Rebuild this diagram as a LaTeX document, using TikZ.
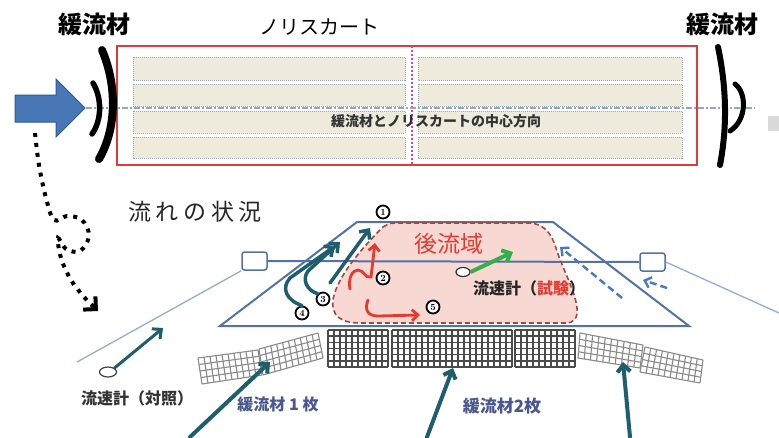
\documentclass[tikz,border=0pt]{standalone}
\usepackage{fontspec}
\newfontfamily\jp{Noto Sans CJK JP}
\usetikzlibrary{arrows.meta,calc,shapes.geometric}

\definecolor{stripfill}{HTML}{EEEBDC}
\definecolor{stripline}{HTML}{9EA6B6}
\definecolor{frame}{HTML}{E53935}
\definecolor{midline}{HTML}{E0409A}
\definecolor{axisblue}{HTML}{8EA6D4}
\definecolor{blockfill}{HTML}{4877B6}
\definecolor{blockedge}{HTML}{30589A}
\definecolor{chanblue}{HTML}{5272AC}
\definecolor{sideblue}{HTML}{93AED6}
\definecolor{tealc}{HTML}{1F5E6C}
\definecolor{wakefill}{HTML}{F7D8D3}
\definecolor{wakeedge}{HTML}{A24A42}
\definecolor{redtxt}{HTML}{E63A30}
\definecolor{greenc}{HTML}{33B04A}
\definecolor{backflow}{HTML}{4A78C8}
\definecolor{labelblue}{HTML}{4A5890}
\definecolor{meshdark}{HTML}{4A4A4A}
\definecolor{meshlight}{HTML}{8A8A8A}

% quadrilateral net panel: corners TL, TR, BR, BL, columns, rows, line style
\newcommand\drawmeshquad[7]{%
  \fill[white] #1 -- #2 -- #3 -- #4 -- cycle;
  \foreach \k in {0,...,#5}{\draw[#7] ($#1!\k/#5!#2$) -- ($#4!\k/#5!#3$);}
  \foreach \k in {0,...,#6}{\draw[#7] ($#1!\k/#6!#4$) -- ($#2!\k/#6!#3$);}
}

\tikzset{
  jplabel/.style={inner sep=0pt},
  strip/.style={fill=stripfill, draw=stripline, densely dotted, line width=1pt},
  chan/.style={draw=chanblue, line width=2pt},
  sideline/.style={draw=sideblue, line width=1.3pt},
  gauge/.style={draw=chanblue, fill=white, rounded corners=2.5pt, line width=1.5pt,
                minimum width=25pt, minimum height=18pt, inner sep=0pt},
  meter/.style={ellipse, draw=black!80, fill=white, line width=1.2pt, inner sep=0pt},
  numc/.style={circle, draw=black, fill=white, line width=1.8pt, inner sep=0pt,
               minimum size=13pt, font=\bfseries\fontsize{9.5}{9.5}\selectfont},
  tealarrow/.style={draw=tealc, line width=3.5pt, line cap=round,
                    -{Straight Barb[length=7pt,width=13pt]}},
  redarrow/.style={draw=redtxt, line width=2.8pt, line cap=round,
                   -{Straight Barb[length=6pt,width=11pt]}},
  backarrow/.style={draw=backflow, line width=2.4pt, dash pattern=on 7pt off 4pt,
                    -{Straight Barb[length=6pt,width=11pt]}},
  dampstroke/.style={draw=black, line cap=round},
  meshd/.style={draw=meshdark, line width=1.6pt},
  meshl/.style={draw=meshlight, line width=1.1pt},
}

\begin{document}
\begin{tikzpicture}[x=1pt,y=-1pt]
\useasboundingbox (0,0) rectangle (779,437);
\fill[white] (0,0) rectangle (779,437);

% ---------- plan view: net skirt between the two dampers ----------
\node[jplabel, font=\jp\bfseries\fontsize{24}{26}\selectfont] (damperL) at (94,24) {緩流材};
\node[jplabel, font=\jp\fontsize{20}{24}\selectfont] (skirt) at (319,27) {ノリスカート};
\node[jplabel, font=\jp\bfseries\fontsize{24}{26}\selectfont] (damperR) at (722,24) {緩流材};

\foreach \ya/\yb in {57/80,84/106,111/133,137/158}{
  \draw[strip] (133,\ya) rectangle (405,\yb);
  \draw[strip] (418,\ya) rectangle (682,\yb);
}
\draw[frame, line width=2.2pt] (117,46) rectangle (697,165);
\draw[midline, line width=2pt, dash pattern=on 2pt off 2pt] (412,46) -- (412,165);

% centre axis of dampers and skirt
\coordinate (axisL) at (86,108);
\coordinate (axisR) at (755,108);
\draw[axisblue, line width=1.5pt, dash pattern=on 6pt off 2pt on 2pt off 2pt] (axisL) -- (axisR);
\node[jplabel, font=\jp\bfseries\fontsize{14}{16}\selectfont, text=black!80] (axistext) at (436,121)
  {緩流材とノリスカートの中心方向};

% incoming flow
\draw[fill=blockfill, draw=blockedge, line width=1pt]
  (15,95) -- (56,95) -- (56,79) -- (85,108) -- (56,137) -- (56,122) -- (15,122) -- cycle;

% dampers (brush strokes)
\draw[dampstroke, line width=8pt] (102,50) .. controls (117,85) and (117,128) .. (99,159);
\draw[dampstroke, line width=5.5pt] (93,83) .. controls (102,98) and (102,120) .. (92,134);
\draw[dampstroke, line width=6pt] (718,47) .. controls (727,90) and (727,128) .. (720,165);
\draw[dampstroke, line width=5pt] (735,84) .. controls (747,93) and (747,120) .. (730,131);
\fill[black!15] (768,116) rectangle (779,131);

% dotted pointer down to the flow sketch
\draw[line width=4pt, dash pattern=on 4pt off 6pt, -{Straight Barb[length=9pt,width=18pt]}]
  plot[smooth, tension=0.6] coordinates {(35,133) (39,165) (46,198) (54,220) (67,216)
  (82,220) (89,236) (80,251) (66,249) (58,238) (61,258) (71,280) (85,298) (98,311)};

\node[jplabel, font=\jp\fontsize{23}{26}\selectfont\addfontfeature{LetterSpace=20}, text=black!85]
  (flowtitle) at (195,212) {流れの状況};

% ---------- flow sketch ----------
% wake region
\fill[wakefill] (383,227) .. controls (390,223) .. (400,223) -- (530,223)
  .. controls (545,224) and (552,235) .. (556,248)
  .. controls (562,268) and (575,290) .. (577,308)
  .. controls (578,318) and (574,323) .. (566,323) -- (360,323)
  .. controls (340,323) and (331,315) .. (333,300)
  .. controls (336,282) and (352,258) .. (383,227) -- cycle;

% channel outline and gauge line
\draw[chan] (357,222) -- (553,222) -- (689,326) -- (220,326) -- cycle;
\node[gauge] (boxL) at (254.5,261) {};
\node[gauge] (boxR) at (652.5,262) {};
\draw[chan] (boxL.east) -- (boxR.west);
\coordinate (sideL) at (77,362);
\coordinate (sideR) at (779,313);
\draw[sideline] (boxL.south west) -- (sideL);
\draw[sideline] (boxR.east) -- (sideR);

\draw[wakeedge, line width=1.6pt, dash pattern=on 5pt off 3pt]
  (383,227) .. controls (390,223) .. (400,223) -- (530,223)
  .. controls (545,224) and (552,235) .. (556,248)
  .. controls (562,268) and (575,290) .. (577,308)
  .. controls (578,318) and (574,323) .. (566,323) -- (360,323)
  .. controls (340,323) and (331,315) .. (333,300)
  .. controls (336,282) and (352,258) .. (383,227);

\node[jplabel, font=\jp\fontsize{23}{26}\selectfont, text=redtxt] (wake) at (449,244) {後流域};

% test current meter
\node[meter, minimum width=14pt, minimum height=9pt] (meterT) at (463,272) {};
\coordinate (greentip) at (513,252);
\draw[greenc, line width=4pt, -{Straight Barb[length=7pt,width=13pt]}] (meterT.east) -- (greentip);
\node[jplabel, font=\jp\bfseries\fontsize{16}{18}\selectfont, text=black!85] (meterTtext) at (529,288)
  {流速計（\textcolor{redtxt}{試験}）};

% backflow on the downstream side
\coordinate (bf1s) at (622,298); \coordinate (bf1e) at (560,247);
\coordinate (bf2s) at (667,288); \coordinate (bf2e) at (643,280);
\draw[backarrow] (bf1s) -- (bf1e);
\draw[backarrow] (bf2s) -- (bf2e);

% numbered flow paths
\node[numc] (n1) at (383,212) {1};
\node[numc] (n2) at (383,278) {2};
\node[numc] (n3) at (323,299) {3};
\node[numc] (n4) at (302,313) {4};
\node[numc] (n5) at (433,307) {5};

\coordinate (t4) at (335,246);
\coordinate (t3) at (340,242);
\coordinate (s1a) at (330,283); \coordinate (t1) at (370,228);
\draw[tealarrow] (n4.north) .. controls (286,300) and (281,288) .. (290,278) -- (t4);
\draw[tealarrow] (n3.north west) .. controls (306,290) and (302,279) .. (308,271) -- (t3);
\draw[tealarrow] (s1a) -- (t1);

\coordinate (r2s) at (350,289); \coordinate (r2t) at (375,243);
\draw[redarrow] (r2s) .. controls (348,279) and (352,270) .. (358,270)
  .. controls (364,270) and (365,279) .. (371,277) -- (r2t);
\coordinate (r5s) at (368,300); \coordinate (r5t) at (420,315);
\draw[redarrow] (r5s) .. controls (364,310) and (368,316) .. (378,316) -- (r5t);

% reference current meter
\node[meter, draw=black!75, minimum width=17pt, minimum height=10pt] (meterC) at (108,372) {};
\coordinate (refmtip) at (163,328);
\draw[tealarrow, line width=3pt] (meterC.north east) -- (refmtip);
\node[jplabel, font=\jp\bfseries\fontsize{16}{18}\selectfont, text=black!80] (meterCtext) at (137,398)
  {流速計（対照）};

% net dampers
\drawmeshquad{(198,358)}{(258,350)}{(262,375)}{(202,384)}{10}{4}{meshl}
\drawmeshquad{(259,349)}{(318,333)}{(323,358)}{(263,375)}{10}{4}{meshl}
\drawmeshquad{(328,330)}{(388,330)}{(388,367)}{(328,367)}{10}{6}{meshd}
\drawmeshquad{(392,330)}{(452,330)}{(452,367)}{(392,367)}{10}{6}{meshd}
\drawmeshquad{(452,330)}{(512,330)}{(512,367)}{(452,367)}{10}{6}{meshd}
\drawmeshquad{(515,330)}{(575,330)}{(575,367)}{(515,367)}{10}{6}{meshd}
\drawmeshquad{(580,333)}{(643,345)}{(640,368)}{(578,358)}{10}{4}{meshl}
\drawmeshquad{(645,347)}{(703,360)}{(700,383)}{(640,372)}{10}{4}{meshl}

% inflow arrows onto the nets
\coordinate (in1s) at (190,437); \coordinate (in1t) at (270,362);
\coordinate (in2s) at (427,437); \coordinate (in2t) at (453,368);
\coordinate (in3s) at (630,437); \coordinate (in3t) at (623,362);
\draw[tealarrow, line width=4pt] (in1s) -- (in1t);
\draw[tealarrow, line width=4pt] (in2s) -- (in2t);
\draw[tealarrow, line width=4pt] (in3s) -- (in3t);

\node[jplabel, font=\jp\bfseries\fontsize{16}{18}\selectfont, text=labelblue] (one) at (278,404) {緩流材 1 枚};
\node[jplabel, font=\jp\bfseries\fontsize{17}{19}\selectfont, text=labelblue] (two) at (502,406) {緩流材2枚};
\end{tikzpicture}
\end{document}
